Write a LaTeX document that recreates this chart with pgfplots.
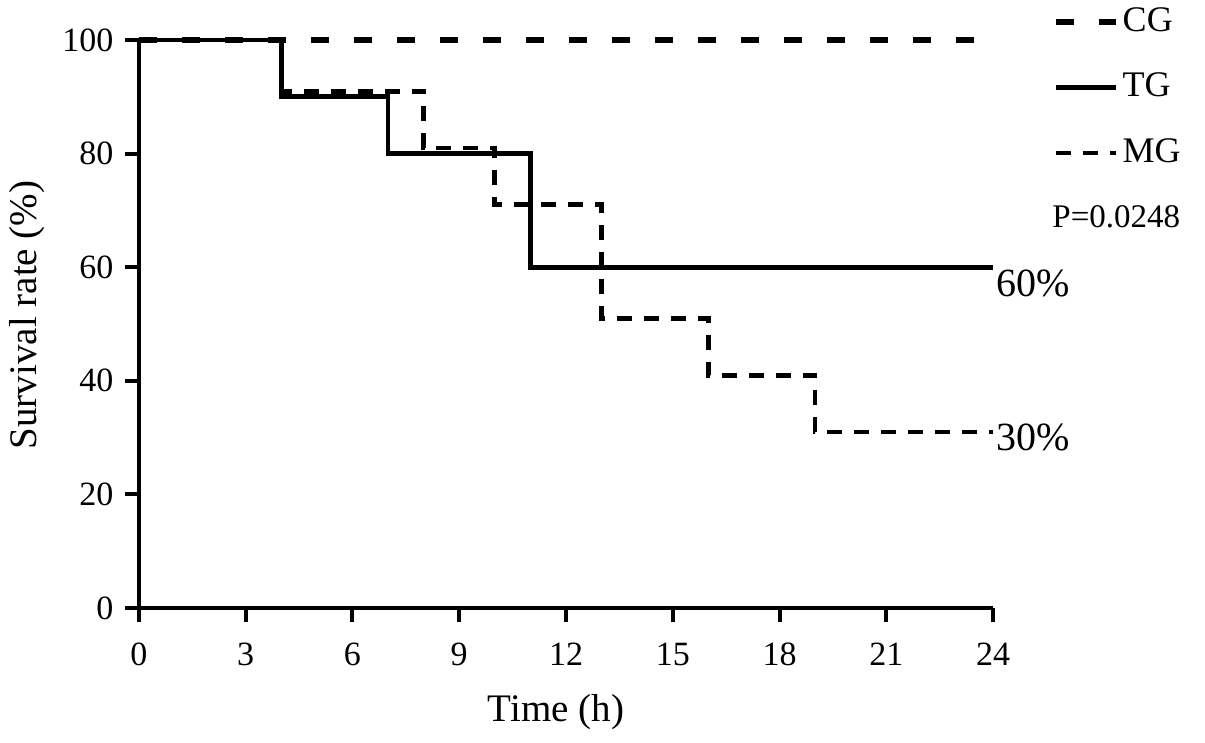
\documentclass[border=0pt]{standalone}
\usepackage{fontspec}
\setmainfont{Liberation Serif}
\usepackage{pgfplots}
\pgfplotsset{compat=1.18}
\begin{document}
\fontsize{17}{20}\selectfont
\begin{tikzpicture}
\useasboundingbox (-69.5pt,-67.5pt) rectangle (533pt,304pt);
\begin{axis}[
  at={(0,0)}, anchor=south west,
  scale only axis, width=427pt, height=284pt,
  xmin=0, xmax=24, ymin=0, ymax=100,
  axis x line*=bottom, axis y line*=left,
  axis line style={line width=2pt, black},
  xtick={0,3,...,24}, ytick={0,20,...,100},
  tick align=outside, major tick length=7pt,
  tick style={line width=2pt, black},
  /pgf/number format/assume math mode=true,
  tick label style={font=\fontsize{17}{20}\selectfont},
  xticklabel style={yshift=-4.5pt},
  label style={font=\fontsize{19.5}{23}\selectfont},
  xlabel={Time (h)}, ylabel={Survival rate (\%)},
  xlabel style={at={(axis cs:11.72,-18.3)}, anchor=center},
  ylabel style={at={(axis cs:-3.15,51.6)}, anchor=center},
  clip=false,
  legend style={draw=none, fill=none, at={(axis cs:25.69,106.5)}, anchor=north west,
    inner sep=0pt, row sep=14.3pt, font=\fontsize{18}{21}\selectfont},
  legend cell align=left,
  legend image code/.code={\draw[#1] (0pt,0pt) -- (30pt,0pt);},
]
\addplot[const plot, black, line width=2.6pt, dash pattern=on 9pt off 12.5pt] coordinates {(0,100) (24,100)};
\addlegendentry{CG}
\addplot[const plot, black, line width=2.4pt] coordinates {(0,100) (4,90) (7,80) (11,60) (24,60)};
\addlegendentry{TG}
\addplot[const plot, black, line width=2.4pt, dash pattern=on 7.5pt off 6pt] coordinates {(0,100) (4,91) (8,81) (10,71) (13,51) (16,41) (19,31) (24,31)};
\addlegendentry{MG}
\node[anchor=west, inner sep=0pt, font=\fontsize{16.5}{20}\selectfont] at (axis cs:25.66,68.8) {P=0.0248};
\node[anchor=west, inner sep=0pt, font=\fontsize{20}{24}\selectfont] at (axis cs:24.1,57.2) {60\%};
\node[anchor=west, inner sep=0pt, font=\fontsize{20}{24}\selectfont] at (axis cs:24.1,30.1) {30\%};
\end{axis}
\end{tikzpicture}
\end{document}
